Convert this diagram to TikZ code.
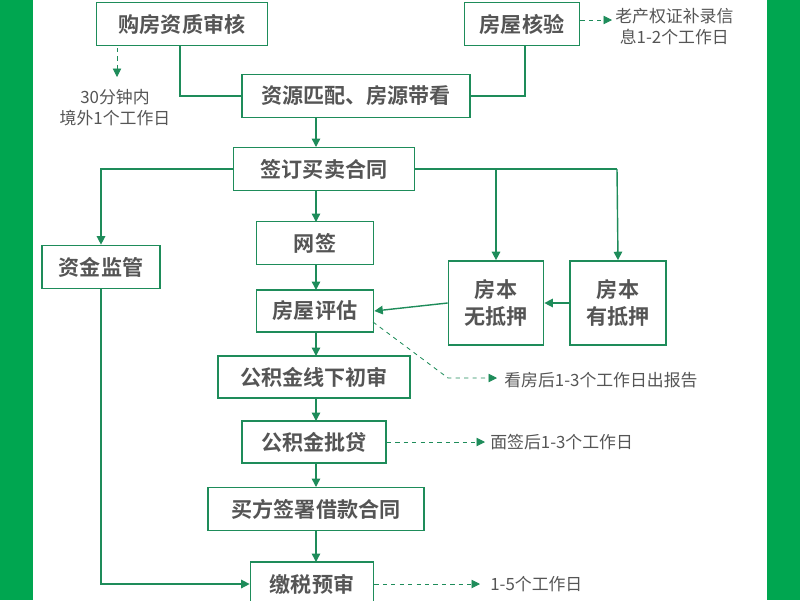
\documentclass[tikz,border=0pt]{standalone}
\usepackage{fontspec}
\setmainfont{Noto Sans CJK SC}
\newfontfamily\cjkbold{Noto Sans CJK SC Bold}
\usetikzlibrary{arrows.meta}
\definecolor{bargreen}{RGB}{0,166,80}
\definecolor{linegreen}{RGB}{30,140,90}
\definecolor{txtgray}{RGB}{85,85,85}
\begin{document}
\begin{tikzpicture}[x=0.025cm,y=-0.025cm,
  box/.style={draw=linegreen,line width=1.2pt,fill=white,text=txtgray,font=\cjkbold\fontsize{15pt}{19pt}\selectfont,align=center,inner sep=0pt},
  note/.style={text=txtgray,font=\fontsize{12pt}{15pt}\selectfont,align=center,inner sep=0pt},
  flow/.style={draw=linegreen,line width=1pt,-{Triangle[length=6pt,width=6pt]}},
  link/.style={draw=linegreen,line width=1pt},
  hint/.style={draw=linegreen,line width=0.6pt,dashed,-{Triangle[length=6pt,width=6pt]}}]

    \useasboundingbox (0,0) rectangle (800,600);
    \fill[bargreen] (0,0) rectangle (33,600);
    \fill[bargreen] (767,0) rectangle (800,600);

    \node[box,minimum width=171*0.025cm,minimum height=43*0.025cm] (qual) at (182,24)  {购房资质审核};
    \node[box,minimum width=115*0.025cm,minimum height=43*0.025cm] (check) at (522,24) {房屋核验};
    \node[box,minimum width=228*0.025cm,minimum height=43*0.025cm] (match) at (356,96) {资源匹配、房源带看};
    \node[box,minimum width=181*0.025cm,minimum height=43*0.025cm] (sign) at (324,169) {签订买卖合同};
    \node[box,minimum width=118*0.025cm,minimum height=43*0.025cm] (fund) at (101,267) {资金监管};
    \node[box,minimum width=117*0.025cm,minimum height=43*0.025cm] (web) at (315,243)  {网签};
    \node[box,minimum width=95*0.025cm,minimum height=84*0.025cm] (free) at (496,303)  {房本\\无抵押};
    \node[box,minimum width=96*0.025cm,minimum height=84*0.025cm] (mort) at (618,303)  {房本\\有抵押};
    \node[box,minimum width=117*0.025cm,minimum height=42*0.025cm] (eval) at (315,311) {房屋评估};
    \node[box,minimum width=192*0.025cm,minimum height=42*0.025cm] (pre) at (314,377)  {公积金线下初审};
    \node[box,minimum width=144*0.025cm,minimum height=42*0.025cm] (loan) at (314,442) {公积金批贷};
    \node[box,minimum width=216*0.025cm,minimum height=43*0.025cm] (borrow) at (316,509) {买方签署借款合同};
    \node[box,minimum width=123*0.025cm,minimum height=44*0.025cm] (tax) at (312,584)  {缴税预审};

    \node[note] (n1) at (115,108) {30分钟内\\境外1个工作日};
    \node[note,anchor=west] (n2) at (615,27) {老产权证补录信\\息1-2个工作日};
    \node[note,anchor=west] (n3) at (504,380) {看房后1-3个工作日出报告};
    \node[note,anchor=west] (n4) at (490,442) {面签后1-3个工作日};
    \node[note,anchor=west] (n5) at (490,584) {1-5个工作日};
    \coordinate (t1) at (117,77);
    \coordinate (t2) at (612,20);
    \coordinate (t3) at (497,378);
    \coordinate (t4) at (485,442);
    \coordinate (t5) at (480,584);
    \coordinate (k3) at (448,378);

    \draw[link] (180,46) |- (match.west);
    \draw[link] (525,46) |- (match.east);
    \draw[flow] (316,117) -- (316,147);
    \draw[flow] (sign.west) -| (fund.north);
    \draw[flow] (316,190) -- (316,222);
    \draw[link] (sign.east) -- (617,169);
    \draw[flow] (496,169) -- (free.north);
    \draw[flow] (617,169) -- (mort.north);
    \draw[flow] (mort.west) -- (free.east);
    \draw[flow] (free.west) -- (eval.east);
    \draw[flow] (316,265) -- (316,290);
    \draw[flow] (316,332) -- (316,356);
    \draw[flow] (316,398) -- (316,421);
    \draw[flow] (316,463) -- (316,487);
    \draw[flow] (316,530) -- (316,562);
    \draw[flow] (fund.south) |- (tax.west);

    \draw[hint] (117,48) -- (t1);
    \draw[hint] (check.east |- t2) -- (t2);
    \draw[hint] (373,322) -- (k3) -- (t3);
    \draw[hint] (loan.east) -- (t4);
    \draw[hint] (tax.east) -- (t5);
\end{tikzpicture}
\end{document}
